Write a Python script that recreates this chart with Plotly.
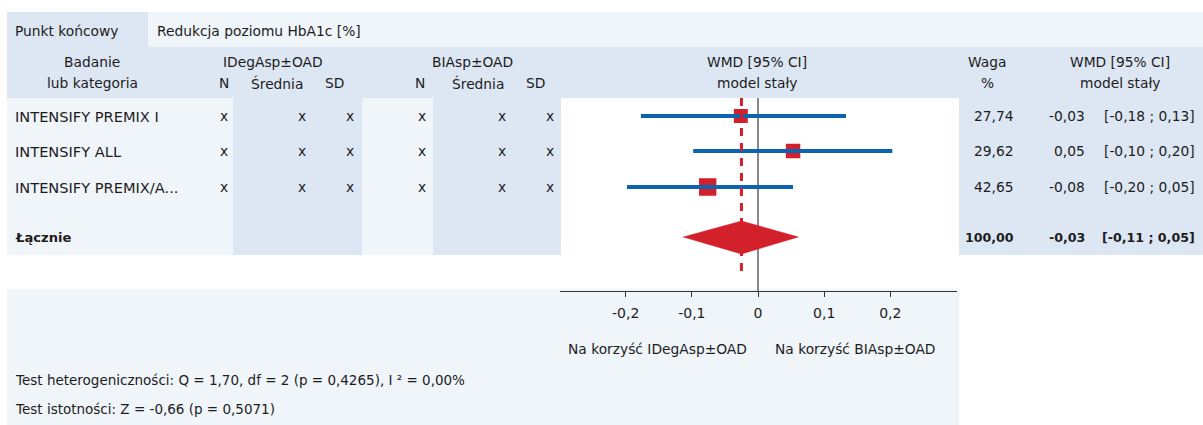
import math
import plotly.graph_objects as go

# ---------------- data ----------------
endpoint_label = "Punkt końcowy"
endpoint_value = "Redukcja poziomu HbA1c [%]"
group1 = "IDegAsp±OAD"
group2 = "BIAsp±OAD"

studies = ["INTENSIFY PREMIX I", "INTENSIFY ALL", "INTENSIFY PREMIX/A..."]
n1 = ["x", "x", "x"]
mean1 = ["x", "x", "x"]
sd1 = ["x", "x", "x"]
n2 = ["x", "x", "x"]
mean2 = ["x", "x", "x"]
sd2 = ["x", "x", "x"]

weights = [27.74, 29.62, 42.65]
wmd = [-0.026, 0.053, -0.076]
ci_low = [-0.177, -0.098, -0.198]
ci_high = [0.133, 0.203, 0.053]
wmd_text = ["-0,03", "0,05", "-0,08"]
ci_text = ["[-0,18 ; 0,13]", "[-0,10 ; 0,20]", "[-0,20 ; 0,05]"]

total_label = "Łącznie"
total_weight_text = "100,00"
pooled = -0.025
pooled_low = -0.113
pooled_high = 0.061
pooled_text = "-0,03"
pooled_ci_text = "[-0,11 ; 0,05]"

tick_vals = [-0.2, -0.1, 0, 0.1, 0.2]
tick_text = ["-0,2", "-0,1", "0", "0,1", "0,2"]

favours_left = "Na korzyść IDegAsp±OAD"
favours_right = "Na korzyść BIAsp±OAD"
het_text = "Test heterogeniczności: Q = 1,70, df = 2 (p = 0,4265), I ² = 0,00%"
sig_text = "Test istotności: Z = -0,66 (p = 0,5071)"

# ---------------- layout constants ----------------
W, H = 1203, 425
FONT = "DejaVu Sans, Liberation Sans, Arial, sans-serif"
FS_HEAD = 13.8
FS_ROW = 14.6
FS_NUM = 13.8
FS_BOLD = 12.6
FS_TEST = 13.5
FS_TICK = 14
TXT = "#1c1c1c"
BLUE_BG = "#dce7f3"
PALE_BG = "#f0f5fa"
CI_COL = "#0c63b1"
RED = "#d3212b"

LEFT_X = 13
ROW_Y = [116, 151, 187]
TOTAL_Y = 237
DATA_TOP, DATA_BOT = 98, 255
AXIS_Y = 291
PLOT_X0, PLOT_X1 = 559.5, 956.5

fig = go.Figure()

# backgrounds (x in pixels -> paper fraction)
def rect(x0, y0, x1, y1, color):
    fig.add_shape(type="rect", xref="paper", yref="y", x0=x0 / W, y0=y0, x1=x1 / W, y1=y1,
                  fillcolor=color, line=dict(width=0), layer="below")

rect(7, 12, 148, 47, BLUE_BG)
rect(148, 12, W, 47, PALE_BG)
rect(7, 47, W, DATA_TOP, BLUE_BG)
rect(7, DATA_TOP, 233, DATA_BOT, PALE_BG)
rect(233, DATA_TOP, 362, DATA_BOT, BLUE_BG)
rect(362, DATA_TOP, 433, DATA_BOT, PALE_BG)
rect(433, DATA_TOP, 561, DATA_BOT, BLUE_BG)
rect(959, DATA_TOP, W, DATA_BOT, BLUE_BG)
rect(7, 289, 959, H, PALE_BG)

# zero line
fig.add_trace(go.Scatter(x=[0, 0], y=[DATA_TOP, AXIS_Y], mode="lines",
                         line=dict(color="#3a3a3a", width=1.2), hoverinfo="skip",
                         showlegend=False))

# study squares
wmin = min(weights)
sizes = [14 * math.sqrt(w / wmin) for w in weights]
fig.add_trace(go.Scatter(x=wmd, y=ROW_Y, mode="markers",
                         marker=dict(symbol="square", size=sizes, color=RED,
                                     opacity=1, line=dict(width=0)),
                         opacity=1, hoverinfo="skip", showlegend=False))

# CI lines
cx, cy = [], []
for lo, hi, y in zip(ci_low, ci_high, ROW_Y):
    cx += [lo, hi, None]
    cy += [y, y, None]
fig.add_trace(go.Scatter(x=cx, y=cy, mode="lines",
                         line=dict(color=CI_COL, width=4), hoverinfo="skip",
                         showlegend=False))

# pooled dashed line
fig.add_trace(go.Scatter(x=[pooled, pooled], y=[DATA_TOP, 278], mode="lines",
                         line=dict(color=RED, width=3, dash="8px,7px"),
                         hoverinfo="skip", showlegend=False))

# diamond
fig.add_trace(go.Scatter(x=[pooled_low, pooled, pooled_high, pooled, pooled_low],
                         y=[TOTAL_Y, TOTAL_Y - 16, TOTAL_Y, TOTAL_Y + 17, TOTAL_Y],
                         mode="lines", fill="toself", fillcolor=RED,
                         line=dict(color=RED, width=0.5), hoverinfo="skip",
                         showlegend=False))

# ---------------- text ----------------
ann = []
def t(x, y, s, anchor="left", size=FS_HEAD, bold=False):
    ann.append(dict(x=x / W, y=y, xref="paper", yref="y",
                    text=(f"<b>{s}</b>" if bold else s),
                    showarrow=False, xanchor=anchor, yanchor="middle",
                    font=dict(family=FONT, size=size, color=TXT)))

t(LEFT_X, 31, endpoint_label)
t(155, 31, endpoint_value)

# headers
t(92, 62, "Badanie", "center")
t(92, 83, "lub kategoria", "center")
t(273, 62, group1, "center")
t(224, 83, "N", "center")
t(277, 83, "Średnia", "center")
t(334, 83, "SD", "center")
t(472, 62, group2, "center")
t(420, 83, "N", "center")
t(478, 83, "Średnia", "center")
t(535, 83, "SD", "center")
t(757, 62, "WMD [95% CI]", "center")
t(757, 83, "model stały", "center")
t(987, 62, "Waga", "center")
t(987, 83, "%", "center")
t(1120, 62, "WMD [95% CI]", "center")
t(1120, 83, "model stały", "center")

for i, y in enumerate(ROW_Y):
    t(LEFT_X, y, studies[i], size=FS_ROW)
    t(224, y, n1[i], "center", FS_NUM)
    t(302, y, mean1[i], "center", FS_NUM)
    t(350, y, sd1[i], "center", FS_NUM)
    t(422, y, n2[i], "center", FS_NUM)
    t(502, y, mean2[i], "center", FS_NUM)
    t(550, y, sd2[i], "center", FS_NUM)
    t(1016, y, f"{weights[i]:.2f}".replace(".", ","), "right", FS_NUM)
    t(1087, y, wmd_text[i], "right", FS_NUM)
    t(1197, y, ci_text[i], "right", FS_NUM)

t(LEFT_X, TOTAL_Y, total_label, size=FS_BOLD + 0.5, bold=True)
t(1016, TOTAL_Y, total_weight_text, "right", FS_BOLD, bold=True)
t(1087, TOTAL_Y, pooled_text, "right", FS_BOLD, bold=True)
t(1197, TOTAL_Y, pooled_ci_text, "right", FS_BOLD, bold=True)

t(657, 349, favours_left, "center")
t(855, 349, favours_right, "center")
t(LEFT_X, 380, het_text, size=FS_TEST)
t(LEFT_X, 409, sig_text, size=FS_TEST)

fig.update_layout(
    width=W, height=H,
    margin=dict(l=0, r=0, t=0, b=0),
    paper_bgcolor="white", plot_bgcolor="rgba(0,0,0,0)",
    showlegend=False,
    annotations=ann,
    xaxis=dict(domain=[PLOT_X0 / W, PLOT_X1 / W], range=[-0.3, 0.3],
               anchor="free", position=1 - AXIS_Y / H,
               showline=True, linecolor="#333", linewidth=1.3,
               ticks="outside", ticklen=5, tickcolor="#333", tickwidth=1.3,
               ticklabelstandoff=4,
               tickvals=tick_vals, ticktext=tick_text,
               tickfont=dict(family=FONT, size=FS_TICK, color=TXT),
               showgrid=False, zeroline=False, fixedrange=True),
    yaxis=dict(domain=[0, 1], range=[H, 0], visible=False, fixedrange=True),
)

fig.write_html("out.html")
